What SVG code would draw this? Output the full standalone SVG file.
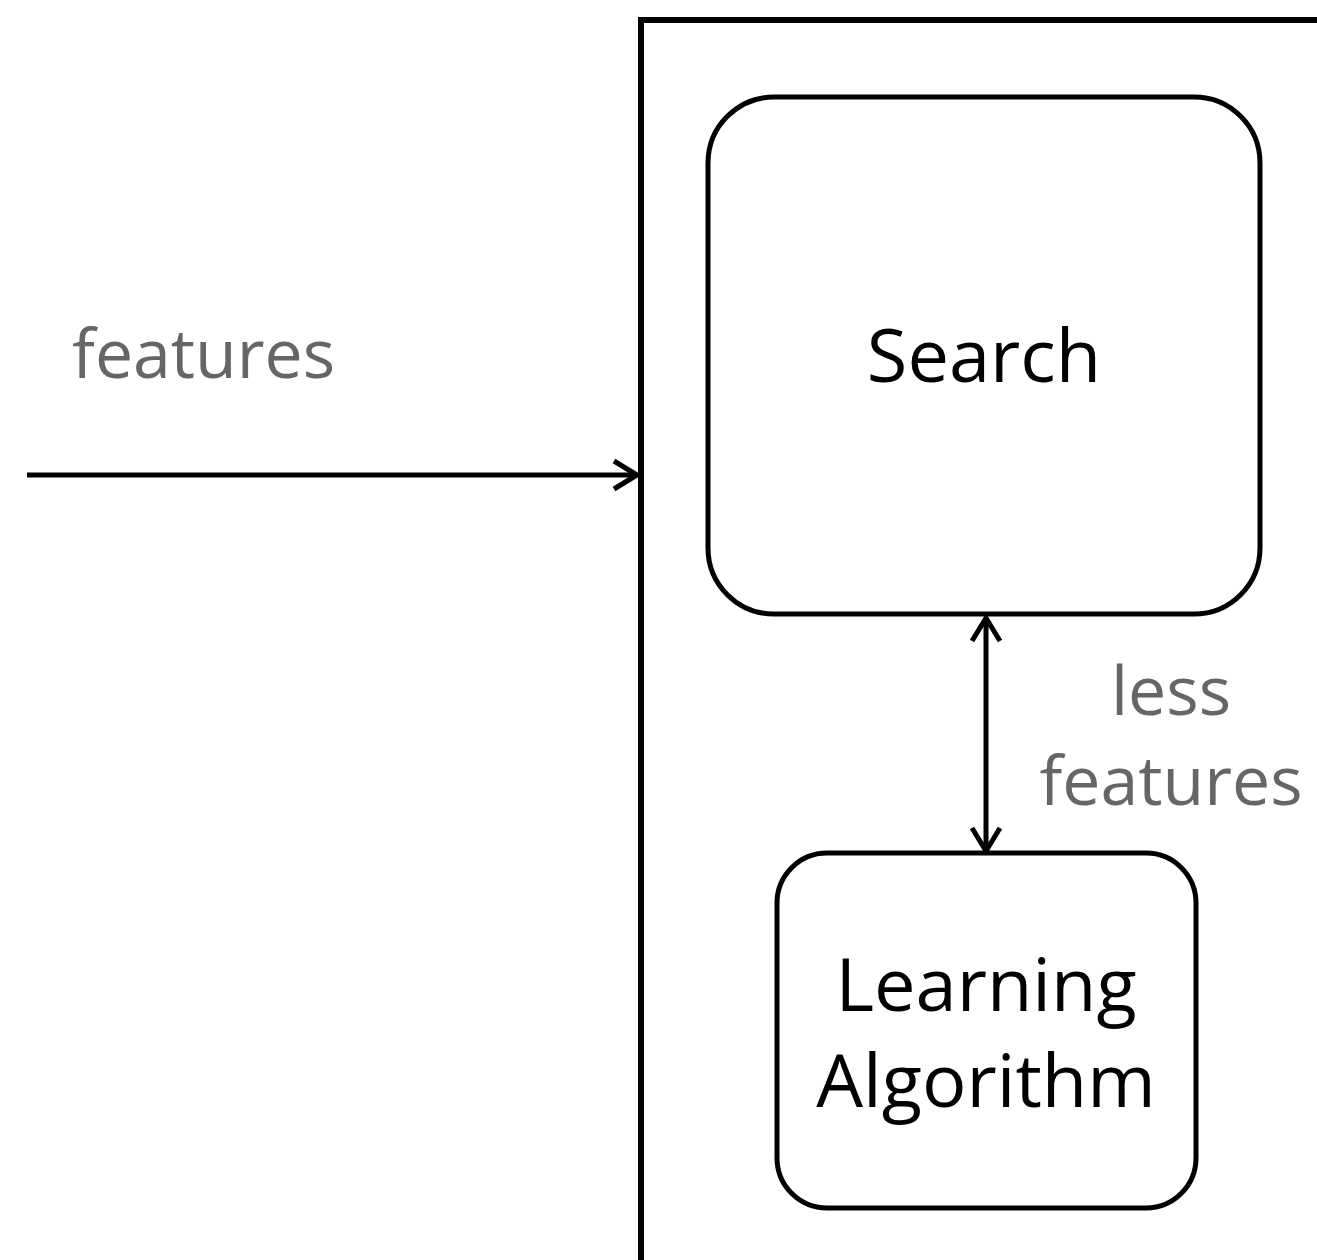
<svg xmlns="http://www.w3.org/2000/svg" width="1317" height="1260" viewBox="0 0 1317 1260">
  <style>
    .frame { fill: none; stroke: #000; stroke-width: 6; }
    .box { fill: #fff; stroke: #000; stroke-width: 5; }
    .link { fill: none; stroke: #000; stroke-width: 5; }
    .title { font-family: "Open Sans", "Noto Sans", sans-serif; font-size: 74px; fill: #000; text-anchor: middle; }
    .note { font-family: "Open Sans", "Noto Sans", sans-serif; font-size: 68px; fill: #666; }
  </style>
  <defs>
    <marker id="head" viewBox="-30 -18 34 36" refX="0" refY="0" markerWidth="34" markerHeight="36" markerUnits="userSpaceOnUse" orient="auto-start-reverse">
      <path d="M-23,-14 L0,0 L-23,14" fill="none" stroke="#000" stroke-width="5" stroke-linejoin="miter"/>
    </marker>
  </defs>
  <rect width="1317" height="1260" fill="#fff"/>

  <!-- enclosing system boundary, open past the right and bottom edges -->
  <g id="system">
    <rect class="frame" x="641" y="20" width="800" height="1400"/>
  </g>

  <g id="connectors">
    <line class="link" x1="27" y1="475" x2="637" y2="475" marker-end="url(#head)"/>
    <line class="link" x1="986" y1="618" x2="986" y2="851" marker-start="url(#head)" marker-end="url(#head)"/>
  </g>

  <g id="search">
    <rect class="box" x="708" y="97" width="552" height="517" rx="66" ry="66"/>
    <text class="title" x="984" y="382">Search</text>
  </g>

  <g id="learning">
    <rect class="box" x="777" y="853" width="419" height="355" rx="50" ry="50"/>
    <text class="title" x="986" y="1011">Learning</text>
    <text class="title" x="986" y="1107">Algorithm</text>
  </g>

  <g id="labels">
    <text class="note" x="72" y="378">features</text>
    <text class="note" x="1171" y="715" text-anchor="middle">less</text>
    <text class="note" x="1171" y="805" text-anchor="middle">features</text>
  </g>
</svg>
